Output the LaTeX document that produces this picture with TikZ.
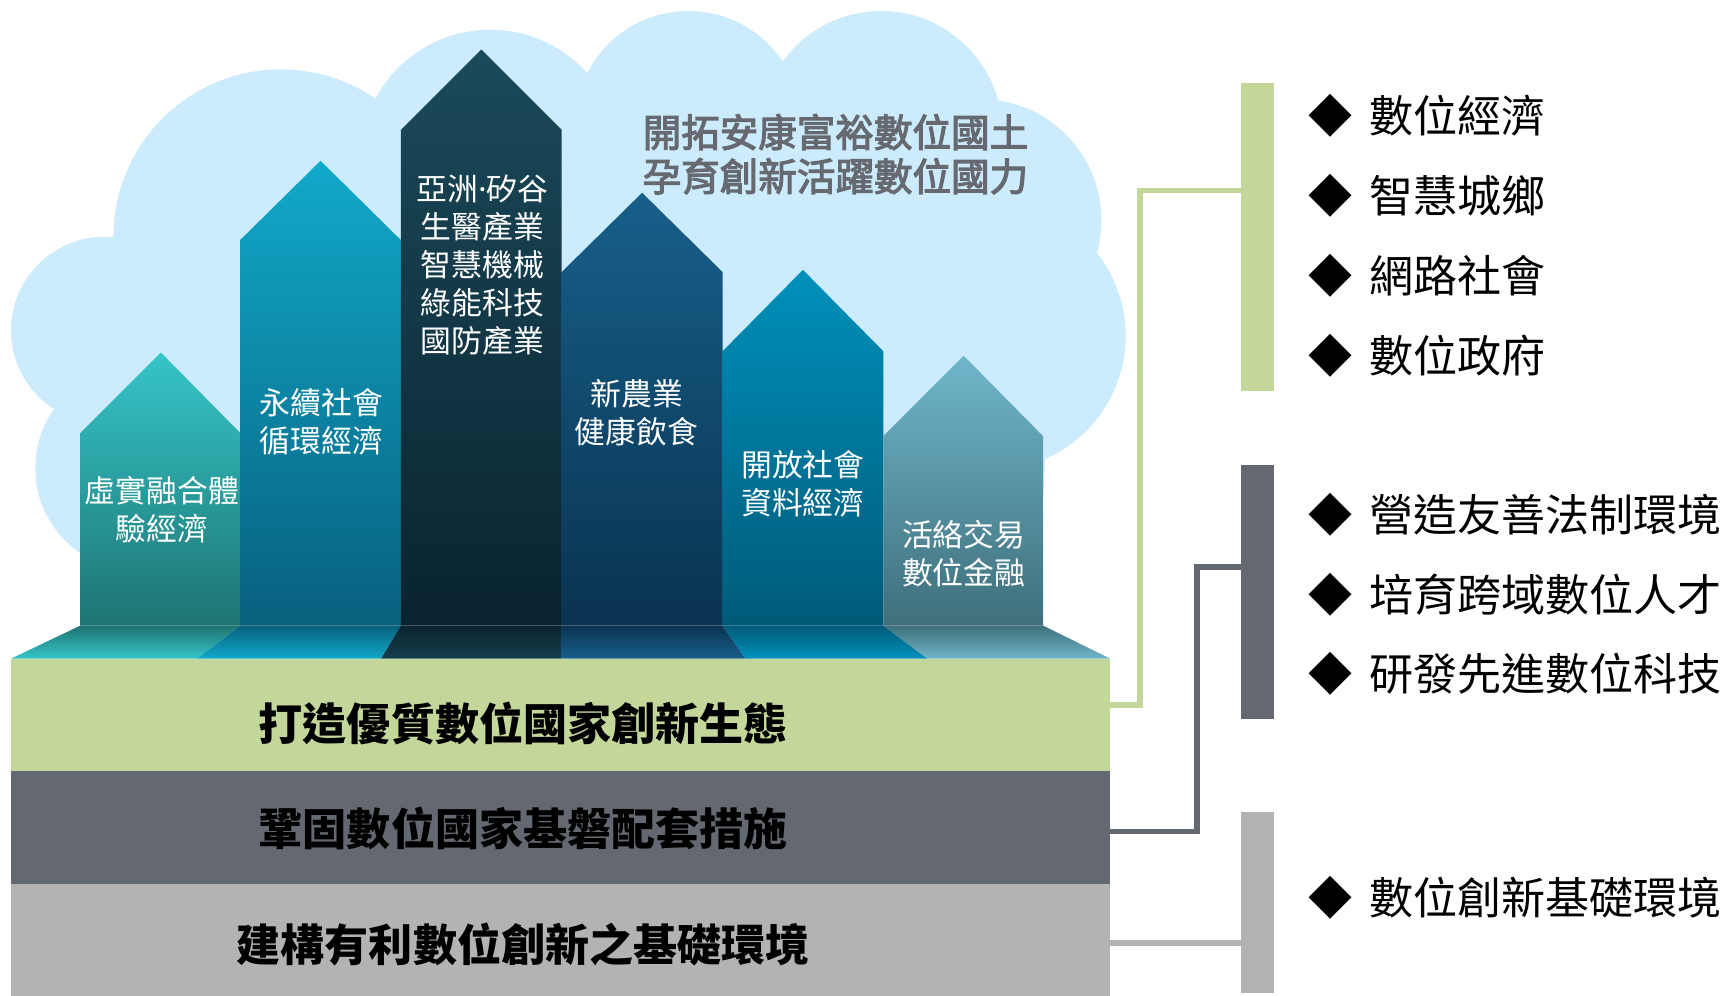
\documentclass[tikz,border=0pt]{standalone}
\usepackage{fontspec}
\newfontfamily\tc{Noto Sans CJK TC}
\newfontfamily\tcmed[FakeBold=3]{Noto Sans CJK TC}
\newfontfamily\latinsans{Noto Sans}
\usetikzlibrary{shapes.geometric}

\definecolor{cloudblue}{RGB}{204,235,252}
\definecolor{layergreen}{RGB}{196,215,155}
\definecolor{layerdark}{RGB}{99,104,113}
\definecolor{layerlight}{RGB}{179,179,179}
\definecolor{titlegrey}{RGB}{102,106,112}
% pillar colours: top / bottom
\definecolor{aAt}{RGB}{54,197,201}  \definecolor{aAb}{RGB}{30,116,114}
\definecolor{aBt}{RGB}{17,169,202}  \definecolor{aBb}{RGB}{8,96,126}
\definecolor{aCt}{RGB}{27,74,90}    \definecolor{aCb}{RGB}{10,35,48}
\definecolor{aDt}{RGB}{23,95,138}   \definecolor{aDb}{RGB}{10,51,80}
\definecolor{aEt}{RGB}{0,144,187}   \definecolor{aEb}{RGB}{0,90,120}
\definecolor{aFt}{RGB}{111,182,202} \definecolor{aFb}{RGB}{63,111,123}

\begin{document}
\begin{tikzpicture}[x=1pt,y=-1pt,
  pillarlabel/.style={text=white, align=center, inner sep=0pt,
    font=\tc\fontsize{28}{34.5}\selectfont},
  layerband/.style={minimum width=998pt, inner sep=0pt, draw=none},
  layertext/.style={inner sep=0pt, font=\tc\bfseries\fontsize{40}{40}\selectfont},
  sidebar/.style={minimum width=30pt, inner sep=0pt, draw=none},
  itemtext/.style={anchor=west, inner sep=0pt, font=\tc\fontsize{40}{40}\selectfont},
  link/.style={line width=5pt}
]
\useasboundingbox (0,0) rectangle (1568,904);
\fill[white] (0,0) rectangle (1568,904);

% cloud behind the pillars
\fill[cloudblue]
  (95,300) circle (85pt) (125,425) circle (93pt) (255,215) circle (152pt)
  (445,145) circle (118pt) (625,113) circle (103pt) (800,120) circle (110pt)
  (890,200) circle (110pt) (900,305) circle (122pt);
\fill[cloudblue] (120,210) -- (300,120) -- (900,150) -- (950,400) -- (940,565)
  -- (80,565) -- (80,480) -- (60,380) -- cycle;

% heading inside the cloud
\node[text=titlegrey, align=center, inner sep=0pt,
  font=\tcmed\fontsize{35}{40}\selectfont] (heading) at (758.5,140)
  {開拓安康富裕數位國土\\孕育創新活躍數位國力};

% pillars
\shade[top color=aAt, bottom color=aAb] (73,568) -- (73,393) -- (146,320) -- (218,393) -- (218,568) -- cycle;
\shade[top color=aBt, bottom color=aBb] (218,568) -- (218,218) -- (291,146) -- (364,218) -- (364,568) -- cycle;
\shade[top color=aCt, bottom color=aCb] (364,568) -- (364,118) -- (437,45) -- (510,118) -- (510,568) -- cycle;
\shade[top color=aDt, bottom color=aDb] (510,568) -- (510,247) -- (583,175) -- (656,247) -- (656,568) -- cycle;
\shade[top color=aEt, bottom color=aEb] (656,568) -- (656,319) -- (729,245) -- (802,319) -- (802,568) -- cycle;
\shade[top color=aFt, bottom color=aFb] (802,568) -- (802,396) -- (875,323) -- (947,396) -- (947,568) -- cycle;

% pillar feet
\shade[top color=aAb, bottom color=aAt] (73,568) -- (218,568) -- (179,598) -- (10,598) -- cycle;
\shade[top color=aBb, bottom color=aBt] (218,568) -- (364,568) -- (346,598) -- (179,598) -- cycle;
\shade[top color=aCb, bottom color=aCt!85!black] (364,568) -- (510,568) -- (510,598) -- (346,598) -- cycle;
\shade[top color=aDb, bottom color=aDt] (510,568) -- (656,568) -- (677,598) -- (510,598) -- cycle;
\shade[top color=aEb, bottom color=aEt] (656,568) -- (802,568) -- (842,598) -- (677,598) -- cycle;
\shade[top color=aFb, bottom color=aFt] (802,568) -- (947,568) -- (1008,598) -- (842,598) -- cycle;

% pillar labels
\node[pillarlabel] (pA) at (147,463) {虛實融合體\\驗經濟};
\node[pillarlabel] (pB) at (292,383) {永續社會\\循環經濟};
\node[pillarlabel] (pC) at (438,241) {亞洲{\latinsans ·}矽谷\\生醫產業\\智慧機械\\綠能科技\\國防產業};
\node[pillarlabel] (pD) at (578,374.5) {新農業\\健康飲食};
\node[pillarlabel] (pE) at (729,439.5) {開放社會\\資料經濟};
\node[pillarlabel] (pF) at (875,503) {活絡交易\\數位金融};

% foundation layers
\node[layerband, fill=layergreen, minimum height=102pt] (band1) at (509,649) {};
\node[layerband, fill=layerdark,  minimum height=103pt] (band2) at (509,751.5) {};
\node[layerband, fill=layerlight, minimum height=101pt] (band3) at (509,853.5) {};
\node[layertext] (bt1) at (475,657) {打造優質數位國家創新生態};
\node[layertext] (bt2) at (475,752) {鞏固數位國家基磐配套措施};
\node[layertext] (bt3) at (475,858) {建構有利數位創新之基礎環境};

% side bars
\node[sidebar, fill=layergreen, minimum height=280pt] (gbar) at (1142,215) {};
\node[sidebar, fill=layerdark,  minimum height=231pt] (dbar) at (1142,537.5) {};
\node[sidebar, fill=layerlight, minimum height=165pt] (lbar) at (1142,819.5) {};

% links from layers to bars
\coordinate (gknee) at (1035,173);
\coordinate (dknee) at (1087,515);
\draw[link, layergreen] ([yshift=9pt]band1.east) -| (gknee) -- ([yshift=42pt]gbar.west);
\draw[link, layerdark]  ([yshift=-3.5pt]band2.east) -| (dknee) -- ([yshift=22.5pt]dbar.west);
\draw[link, layerlight, line width=6pt] ([yshift=-2.5pt]band3.east) -- ([yshift=-36.5pt]lbar.west);

% item lists
\node[itemtext] (g1) at (1188,105) {◆\hspace{15pt}數位經濟};
\node[itemtext] (g2) at (1188,178) {◆\hspace{15pt}智慧城鄉};
\node[itemtext] (g3) at (1188,250) {◆\hspace{15pt}網路社會};
\node[itemtext] (g4) at (1188,323) {◆\hspace{15pt}數位政府};
\node[itemtext] (d1) at (1188,467) {◆\hspace{15pt}營造友善法制環境};
\node[itemtext] (d2) at (1188,540) {◆\hspace{15pt}培育跨域數位人才};
\node[itemtext] (d3) at (1188,612) {◆\hspace{15pt}研發先進數位科技};
\node[itemtext] (l1) at (1188,815) {◆\hspace{15pt}數位創新基礎環境};
\end{tikzpicture}
\end{document}
